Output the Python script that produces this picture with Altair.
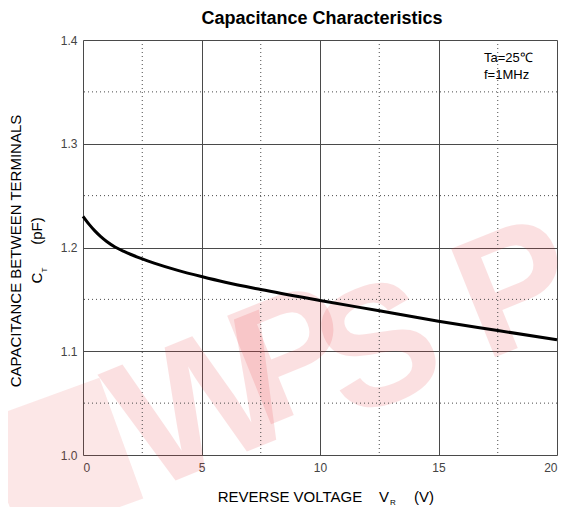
import altair as alt
import pandas as pd

# ---- data ----
voltage = [0, 0.25, 0.5, 0.75, 1.0, 1.35, 1.75, 2.0, 2.5, 3, 4, 5, 6, 7.5, 10, 12.5, 15, 17.5, 20]
capacitance = [1.2300, 1.2225, 1.2160, 1.2105, 1.2058, 1.2005, 1.1960, 1.1935, 1.1890, 1.1850,
               1.1780, 1.1720, 1.1665, 1.1595, 1.1490, 1.1390, 1.1290, 1.1200, 1.1110]
x_major = [0, 5, 10, 15, 20]
y_major = [1.0, 1.1, 1.2, 1.3, 1.4]
x_minor = [2.5, 7.5, 12.5, 17.5]
y_minor = [1.05, 1.15, 1.25, 1.35]

FONT = "Liberation Sans"
GRID = "#4a4a4a"

xs = alt.Scale(domain=[0, 20], nice=False, zero=False)
ys = alt.Scale(domain=[1.0, 1.4], nice=False, zero=False)

x_axis = alt.Axis(values=x_major, title=None, grid=True, gridColor=GRID, gridWidth=1,
                  gridOpacity=1, ticks=False, domain=False, labelFont=FONT, labelFontSize=12,
                  labelColor="#444444", labelPadding=7, format="d")
y_axis = alt.Axis(values=y_major, title=None, grid=True, gridColor=GRID, gridWidth=1,
                  gridOpacity=1, ticks=False, domain=False, labelFont=FONT, labelFontSize=12,
                  labelColor="#444444", labelPadding=6, format=".1f")


def label(text, x, y, size=14, angle=0, weight="normal", color="#000000",
          align="center", baseline="middle", opacity=1.0):
    return alt.Chart(pd.DataFrame({"t": [text]})).mark_text(
        fontSize=size, font=FONT, angle=angle, fontWeight=weight, color=color,
        align=align, baseline=baseline, opacity=opacity
    ).encode(text="t:N", x=alt.value(x), y=alt.value(y))


# watermark (decorative)
wm_color = "#e8383d"
WO = 0.15
logo = alt.Chart(pd.DataFrame({"a": [1]})).mark_point(
    shape="square", filled=True, color=wm_color, opacity=0.12, size=16500, angle=340
).encode(x=alt.value(-22), y=alt.value(420))
wm = [
    label("W", 205 - 83, 408 - 40, size=185, angle=338, weight="bold", color=wm_color, opacity=WO),
    label("P", 294 - 83, 360 - 40, size=170, angle=338, weight="bold", color=wm_color, opacity=WO),
    label("S", 380 - 83, 352 - 40, size=170, angle=338, weight="bold", color=wm_color, opacity=WO),
    label("P", 518 - 83, 293 - 40, size=170, angle=338, weight="bold", color=wm_color, opacity=WO),
]

v_minor = alt.Chart(pd.DataFrame({"V": x_minor})).mark_rule(
    color=GRID, strokeDash=[1, 3], strokeWidth=1
).encode(x=alt.X("V:Q", scale=xs, axis=x_axis))
h_minor = alt.Chart(pd.DataFrame({"C": y_minor})).mark_rule(
    color=GRID, strokeDash=[1, 3], strokeWidth=1
).encode(y=alt.Y("C:Q", scale=ys, axis=y_axis))

curve = alt.Chart(pd.DataFrame({"V": voltage, "C": capacitance})).mark_line(
    color="black", strokeWidth=3, interpolate="monotone"
).encode(
    x=alt.X("V:Q", scale=xs, axis=x_axis),
    y=alt.Y("C:Q", scale=ys, axis=y_axis),
)

texts = [
    label("Capacitance Characteristics", 239, -21, size=18, weight="bold"),
    label("Ta=25℃", 401, 18, size=13, align="left"),
    label("f=1MHz", 401, 35, size=13, align="left"),
    label("REVERSE VOLTAGE", 207, 457, size=15),
    label("V", 301, 457, size=15),
    label("R", 310, 463, size=8),
    label("(V)", 341, 457, size=15),
    label("CAPACITANCE BETWEEN TERMINALS", -67, 211, size=15, angle=270),
    label("C", -46, 238, size=15, angle=270),
    label("T", -38, 230, size=8, angle=270),
    label("(pF)", -46, 191, size=15, angle=270),
]

chart = alt.layer(logo, *wm, v_minor, h_minor, curve, *texts).resolve_scale(
    x="shared", y="shared"
).properties(
    width=474, height=415,
    padding={"left": 75, "top": 32, "right": 4, "bottom": 52},
    autosize=alt.AutoSizeParams(type="none"),
).configure_view(stroke="#444444", strokeWidth=1).configure(background="white")

chart.save("out.html", embed_options={"renderer": "svg", "actions": False})
